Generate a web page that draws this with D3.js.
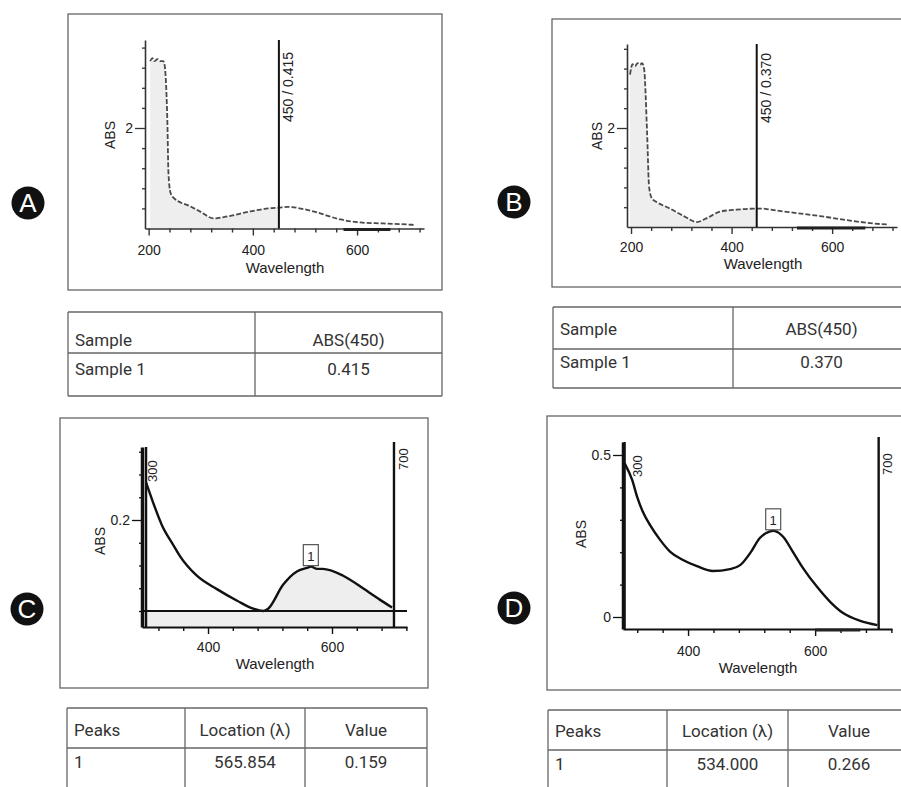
<!DOCTYPE html>
<html>
<head>
<meta charset="utf-8">
<script src="https://cdn.jsdelivr.net/npm/d3@7"></script>
<style>
  body { margin: 0; background: #fff; }
  svg text { font-family: "Liberation Sans", Arial, sans-serif; fill: #222; }
  .tbl text { font-family: Roboto, "Noto Sans", sans-serif; font-size: 17px; fill: #333; }
</style>
</head>
<body>
<svg id="chart" width="901" height="787"></svg>
<script>
// ---- data ----
const waveA = [203, 207, 211, 217, 222, 228, 230, 236, 238, 242, 248, 280, 300, 324, 351, 395, 430, 450, 466, 516, 568, 606, 650, 696, 712];
const absA = [3.33, 3.39, 3.33, 3.37, 3.33, 3.33, 3.29, 2.1, 1.11, 0.71, 0.61, 0.44, 0.33, 0.2, 0.24, 0.34, 0.4, 0.415, 0.43, 0.34, 0.18, 0.12, 0.1, 0.08, 0.07];

const waveB = [198, 203, 208, 213, 218, 222, 226, 232, 236, 242, 250, 278, 305, 331, 351, 377, 410, 443, 450, 464, 477, 522, 576, 642, 696, 712];
const absB = [3.08, 3.29, 3.25, 3.31, 3.28, 3.31, 3.2, 1.9, 0.8, 0.57, 0.51, 0.37, 0.22, 0.1, 0.18, 0.31, 0.35, 0.37, 0.37, 0.37, 0.35, 0.29, 0.22, 0.12, 0.06, 0.05];

const waveC = [300, 311, 326, 344, 355, 382, 415, 447, 473, 489, 497, 521, 544, 560, 566, 576, 585, 618, 650, 677, 697];
const absC = [0.233, 0.216, 0.195, 0.178, 0.168, 0.151, 0.139, 0.129, 0.122, 0.12, 0.122, 0.143, 0.155, 0.158, 0.159, 0.157, 0.157, 0.151, 0.14, 0.13, 0.123];

const waveD = [300, 312, 320, 329, 340, 356, 372, 392, 414, 439, 466, 482, 498, 513, 529, 534, 537, 550, 565, 581, 603, 624, 644, 671, 698];
const absD = [0.475, 0.423, 0.37, 0.324, 0.284, 0.238, 0.201, 0.176, 0.157, 0.142, 0.148, 0.16, 0.198, 0.244, 0.264, 0.266, 0.265, 0.247, 0.201, 0.151, 0.093, 0.046, 0.012, -0.012, -0.025];

const xLabelTicks = [200, 400, 600];
const markerA = [450, 0.415];
const markerB = [450, 0.370];
const rangeC = [300, 700];
const rangeD = [300, 700];
const peakC = [565.854, 0.159];
const peakD = [534.0, 0.266];

const headerAB = ["Sample", "ABS(450)"];
const rowA = ["Sample 1", "0.415"];
const rowB = ["Sample 1", "0.370"];
const headerCD = ["Peaks", "Location (\u03bb)", "Value"];
const rowC = ["1", "565.854", "0.159"];
const rowD = ["1", "534.000", "0.266"];

const svg = d3.select("#chart");

const toPoints = (waves, vals) => waves.map((w, i) => ({ w, v: vals[i] }));

const drawLetter = (cx, cy, letter) => {
  svg.append("circle").attr("cx", cx).attr("cy", cy).attr("r", 16.5).attr("fill", "#111");
  svg
    .append("text")
    .attr("x", cx)
    .attr("y", cy + 9)
    .attr("text-anchor", "middle")
    .attr("font-size", "26px")
    .style("fill", "#fff")
    .text(letter);
};

const drawBox = (x0, y0, x1, y1) => {
  svg
    .append("rect")
    .attr("x", x0)
    .attr("y", y0)
    .attr("width", x1 - x0)
    .attr("height", y1 - y0)
    .attr("fill", "none")
    .attr("stroke", "#666")
    .attr("stroke-width", 1.3);
};

// x axis with small ticks every 40 nm, labels at 200/400/600
const drawXAxis = (g, x, yPos, pad, color, width) => {
  const ax = g
    .append("g")
    .attr("transform", `translate(0,${yPos})`)
    .call(
      d3
        .axisBottom(x)
        .tickValues(d3.range(200, 721, 40).filter((d) => d >= x.domain()[0] && d <= x.domain()[1]))
        .tickFormat((d) => (xLabelTicks.includes(d) ? d : ""))
        .tickSize(4)
        .tickSizeOuter(0)
        .tickPadding(pad)
    );
  ax.select(".domain").attr("stroke", color).attr("stroke-width", width);
  ax.selectAll(".tick line").attr("stroke", color).attr("stroke-width", 1.4)
    .attr("y2", (d) => (xLabelTicks.includes(d) ? 7 : 4));
  ax.selectAll(".tick text").attr("font-size", "14px").style("fill", "#222").attr("font-family", "Liberation Sans, Arial, sans-serif");
  return ax;
};

const drawYAxis = (g, y, xPos, ticks, labels, color, width) => {
  const ax = g
    .append("g")
    .attr("transform", `translate(${xPos},0)`)
    .call(
      d3
        .axisLeft(y)
        .tickValues(ticks)
        .tickFormat((d) => {
          const hit = labels.find((l) => Math.abs(l[0] - d) < 1e-6);
          return hit ? hit[1] : "";
        })
        .tickSize(3)
        .tickSizeOuter(0)
        .tickPadding(2)
    );
  ax.select(".domain").attr("stroke", color).attr("stroke-width", width);
  ax.selectAll(".tick line").attr("stroke", color).attr("stroke-width", 1.3)
    .attr("x2", (d) => (labels.some((l) => Math.abs(l[0] - d) < 1e-6) ? -10 : -3));
  ax.selectAll(".tick text").attr("font-size", "14px").style("fill", "#222").attr("font-family", "Liberation Sans, Arial, sans-serif")
    .attr("x", -12);
  return ax;
};

const rotLabel = (x, y, txt, size) => {
  svg
    .append("text")
    .attr("transform", `translate(${x},${y}) rotate(-90)`)
    .attr("font-size", size)
    .text(txt);
};

const axisTitles = (xc, xb, yc, yx) => {
  svg.append("text").attr("x", xc).attr("y", xb).attr("text-anchor", "middle")
    .attr("font-size", "15px").text("Wavelength");
  svg.append("text").attr("transform", `translate(${yx},${yc}) rotate(-90)`)
    .attr("text-anchor", "middle").attr("font-size", "14px").text("ABS");
};

// Panels A and B: full UV-Vis scan with a 450 nm marker
const drawScanPanel = (p, waves, vals, marker) => {
  const g = svg.append("g");
  const pts = toPoints(waves, vals);
  const x = d3.scaleLinear().domain(p.xDom).range(p.xRange);
  const y = d3.scaleLinear().domain([0, 2]).range([p.y0, p.y2]);
  const yTop = y.invert(p.yTop);

  const area = d3.area().x((d) => x(d.w)).y0(y(0)).y1((d) => y(d.v)).curve(d3.curveMonotoneX);
  g.append("path")
    .datum(pts.filter((d) => d.w <= marker[0]))
    .attr("d", area)
    .attr("fill", "#eeeeee");

  const line = d3.line().x((d) => x(d.w)).y((d) => y(d.v)).curve(d3.curveMonotoneX);
  g.append("path")
    .datum(pts)
    .attr("d", line)
    .attr("fill", "none")
    .attr("stroke", "#4a4a4a")
    .attr("stroke-width", 1.8)
    .attr("stroke-dasharray", "5 2");

  drawXAxis(g, x, p.y0, p.xPad, "#333", 1.6);
  drawYAxis(g, d3.scaleLinear().domain([0, yTop]).range([p.y0, p.yTop]), p.xRange[0],
    d3.range(0.4, yTop, 0.4), [[2, "2"]], "#333", 1.6);

  // dark segment on the axis seen in the print
  g.append("line")
    .attr("x1", x(p.bar[0])).attr("x2", x(p.bar[1]))
    .attr("y1", p.y0 + 1).attr("y2", p.y0 + 1)
    .attr("stroke", "#222").attr("stroke-width", 3);

  g.append("line")
    .attr("x1", x(marker[0])).attr("x2", x(marker[0]))
    .attr("y1", p.yTop).attr("y2", p.y0)
    .attr("stroke", "#111").attr("stroke-width", 2);
  rotLabel(x(marker[0]) + 14.5, p.markerY, `${marker[0]} / ${marker[1].toFixed(3)}`, "14px");

  axisTitles(p.titleX, p.titleY, p.absY, p.absX);
};

// Panels C and D: 300-700 nm with peak pick
const drawPeakPanel = (p, waves, vals, range, peak, baseline) => {
  const g = svg.append("g");
  const pts = toPoints(waves, vals);
  const x = d3.scaleLinear().domain(p.xDom).range(p.xRange);
  const y = d3.scaleLinear().domain(p.yDom).range(p.yPix);
  const yBottom = y.invert(p.xAxisY);
  const yTop = y.invert(p.yTop);

  const line = d3.line().x((d) => x(d.w)).y((d) => y(d.v)).curve(d3.curveMonotoneX);

  if (baseline !== null) {
    g.append("rect")
      .attr("x", x(range[0])).attr("y", y(baseline))
      .attr("width", x(range[1]) - x(range[0]))
      .attr("height", y(yBottom) - y(baseline))
      .attr("fill", "#eeeeee");
    const area = d3.area().x((d) => x(d.w)).y0(y(baseline)).y1((d) => y(d.v)).curve(d3.curveMonotoneX);
    g.append("path")
      .datum(pts.filter((d) => d.w >= 489))
      .attr("d", area)
      .attr("fill", "#eeeeee");
  }

  g.append("path")
    .datum(pts)
    .attr("d", line)
    .attr("fill", "none")
    .attr("stroke", "#111")
    .attr("stroke-width", 2.4);

  if (baseline !== null) {
    g.append("line")
      .attr("x1", p.xRange[0]).attr("x2", p.xRange[1])
      .attr("y1", y(baseline)).attr("y2", y(baseline))
      .attr("stroke", "#111").attr("stroke-width", 2);
  }

  drawXAxis(g, x, p.xAxisY, p.xPad, "#111", 2);
  if (p.bar) {
    g.append("line")
      .attr("x1", x(p.bar[0])).attr("x2", x(p.bar[1]))
      .attr("y1", p.xAxisY + 1).attr("y2", p.xAxisY + 1)
      .attr("stroke", "#222").attr("stroke-width", 3);
  }
  drawYAxis(g, d3.scaleLinear().domain([yBottom, yTop]).range([p.xAxisY, p.yTop]), p.xRange[0],
    p.yTicks, p.yLabels, "#111", 3.5);

  // range markers
  range.forEach((r, i) => {
    g.append("line")
      .attr("x1", x(r)).attr("x2", x(r))
      .attr("y1", i === 0 ? p.yTop : p.yTop - 5).attr("y2", p.xAxisY)
      .attr("stroke", "#111").attr("stroke-width", 2.4);
    rotLabel(x(r) + p.rangeOff[i], p.rangeY[i], `${r}`, "13px");
  });

  // peak flag
  const bw = 15, bh = 21;
  g.append("rect")
    .attr("x", x(peak[0]) - bw / 2)
    .attr("y", y(peak[1]) - bh - 1)
    .attr("width", bw)
    .attr("height", bh)
    .attr("fill", "none")
    .attr("stroke", "#555")
    .attr("stroke-width", 1.2);
  g.append("text")
    .attr("x", x(peak[0]))
    .attr("y", y(peak[1]) - 6)
    .attr("text-anchor", "middle")
    .attr("font-size", "13px")
    .text("1");

  axisTitles(p.titleX, p.titleY, p.absY, p.absX);
};

const drawTable = (cols, rows, base, header, row) => {
  const g = svg.append("g").attr("class", "tbl");
  const bottom = rows[rows.length - 1];
  rows.forEach((ry) => {
    g.append("line").attr("x1", cols[0]).attr("x2", cols[cols.length - 1])
      .attr("y1", ry).attr("y2", ry).attr("stroke", "#666").attr("stroke-width", 1.3);
  });
  cols.forEach((cx) => {
    g.append("line").attr("x1", cx).attr("x2", cx)
      .attr("y1", rows[0]).attr("y2", bottom).attr("stroke", "#666").attr("stroke-width", 1.3);
  });
  [header, row].forEach((cells, r) => {
    g.selectAll(null)
      .data(cells)
      .enter()
      .append("text")
      .attr("x", (d, i) => (i === 0 ? cols[0] + 7 : (cols[i] + cols[i + 1]) / 2))
      .attr("y", base[r])
      .attr("text-anchor", (d, i) => (i === 0 ? "start" : "middle"))
      .text((d) => d);
  });
};

// ---- A ----
drawBox(68, 14, 442, 290);
drawLetter(28, 203, "A");
drawScanPanel(
  { xDom: [193, 728.5], xRange: [145, 424], y0: 228.5, y2: 128, yTop: 40, xPad: 13,
    bar: [574, 664], markerY: 122, titleX: 285, titleY: 273, absX: 115, absY: 135 },
  waveA, absA, markerA
);
drawTable([68, 255, 442], [312, 353, 396], [346, 375], headerAB, rowA);

// ---- B ----
drawBox(552, 19, 910, 287);
drawLetter(514, 202, "B");
drawScanPanel(
  { xDom: [192, 729], xRange: [627, 897], y0: 227, y2: 128, yTop: 44, xPad: 11,
    bar: [530, 666], markerY: 123, titleX: 763, titleY: 269, absX: 602, absY: 136 },
  waveB, absB, markerB
);
drawTable([553, 733, 910], [307, 349, 388], [335, 368], headerAB, rowB);

// ---- C ----
drawBox(60, 418, 428, 688);
drawLetter(27, 609, "C");
drawPeakPanel(
  { xDom: [293.5, 721], xRange: [142, 407], yDom: [0.12, 0.2], yPix: [611, 520], xAxisY: 627, yTop: 447,
    xPad: 11, yTicks: d3.range(0.12, 0.265, 0.02), yLabels: [[0.2, "0.2"]],
    rangeOff: [11, 14], rangeY: [482, 470], titleX: 275, titleY: 669, absX: 105, absY: 541 },
  waveC, absC, rangeC, peakC, 0.12
);
drawTable([67, 185, 305, 427], [708, 748, 800], [736, 768], headerCD, rowC);

// ---- D ----
drawBox(547, 416, 910, 690);
drawLetter(514, 608, "D");
drawPeakPanel(
  { xDom: [297.6, 721], xRange: [623, 892], yDom: [0, 0.5], yPix: [617, 455], xAxisY: 629, yTop: 442,
    xPad: 13, bar: [600, 671], yTicks: d3.range(0, 0.51, 0.1), yLabels: [[0, "0"], [0.5, "0.5"]],
    rangeOff: [17, 13], rangeY: [477, 475], titleX: 758, titleY: 673, absX: 586, absY: 534 },
  waveD, absD, rangeD, peakD, null
);
drawTable([548, 667, 788, 910], [710, 750, 800], [737, 770], headerCD, rowD);
</script>
</body>
</html>
